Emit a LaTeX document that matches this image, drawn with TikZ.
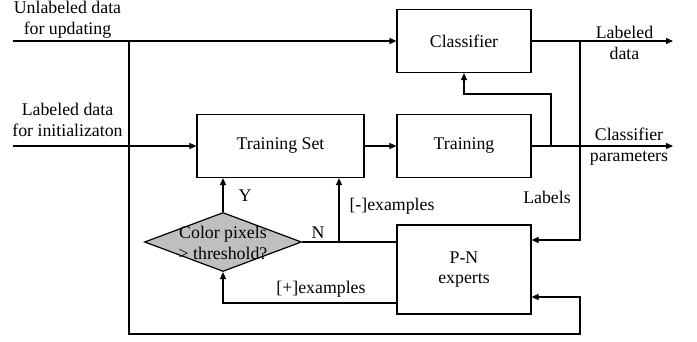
\documentclass[tikz,border=0pt]{standalone}
\usepackage{fontspec}
\setmainfont{Liberation Serif}
\usetikzlibrary{arrows.meta,shapes.geometric}
\begin{document}
\begin{tikzpicture}[x=1pt,y=-1pt,
  lbl/.style={font=\fontsize{17.8}{20.5}\selectfont,align=center,inner sep=0pt},
  box/.style={draw,line width=1.2pt,inner sep=0pt,lbl},
  conn/.style={line width=1.2pt},
  arr/.style={conn,-{Triangle[length=7pt,width=6pt]}}
]
\useasboundingbox (0,0) rectangle (697,342);
% boxes
\node[box,minimum width=134pt,minimum height=63pt] (cls) at (464,41) {Classifier};
\node[box,minimum width=134pt,minimum height=63pt] (tr) at (464,146) {Training};
\node[box,minimum width=167pt,minimum height=63pt] (ts) at (280.5,146) {Training Set};
\node[box,minimum width=134pt,minimum height=89pt] (pn) at (464,269.5) {P-N\\experts};
\node[diamond,draw,fill=black!25,line width=1.2pt,minimum width=157pt,minimum height=59pt,inner sep=0pt] (d) at (223,242) {};
\node[lbl] (dt) at (223,243) {Color pixels\\> threshold?};
% text labels
\node[lbl] (l1) at (67.5,19.5) {Unlabeled data\\for updating};
\node[lbl] (l2) at (67.5,120) {Labeled data\\for initializaton};
\node[lbl] (l3) at (624.5,43) {Labeled\\data};
\node[lbl] (l4) at (629,146.5) {Classifier\\parameters};
\node[lbl] (l5) at (547,197) {Labels};
\node[lbl] (l6) at (392,206) {[-]examples};
\node[lbl] (l7) at (321,289) {[+]examples};
\node[lbl] (l8) at (245,196) {Y};
\node[lbl] (l9) at (318,233) {N};
% coordinates
\coordinate (inU) at (13,41);
\coordinate (inL) at (13,146);
\coordinate (outL) at (673,41);
\coordinate (outP) at (673,146);
\coordinate (jU) at (129,41);
\coordinate (bot) at (129,334);
\coordinate (fb1) at (580,297);
\coordinate (jT1) at (551,146);
\coordinate (fbc) at (551,94);
\coordinate (jT2) at (580,41);
\coordinate (lab) at (580,240);
\coordinate (nj) at (339,242);
\coordinate (pe) at (397,303);
% connectors
\draw[arr] (inU) -- (cls.west);
\draw[arr] (cls.east) -- (outL);
\draw[arr] (jU) -- (bot) -| (fb1) -- (pn.east |- fb1);
\draw[arr] (inL) -- (ts.west);
\draw[arr] (ts.east) -- (tr.west);
\draw[arr] (tr.east) -- (outP);
\draw[arr] (jT1) -- (fbc) -| (cls.south);
\draw[arr] (jT2) -- (lab) -- (pn.east |- lab);
\draw[arr] (d.north) -- (d.north |- ts.south);
\draw[conn] (d.east) -- (pn.west |- d.east);
\draw[arr] (nj) -- (nj |- ts.south);
\draw[arr] (pe) -| (d.south);
\end{tikzpicture}
\end{document}
